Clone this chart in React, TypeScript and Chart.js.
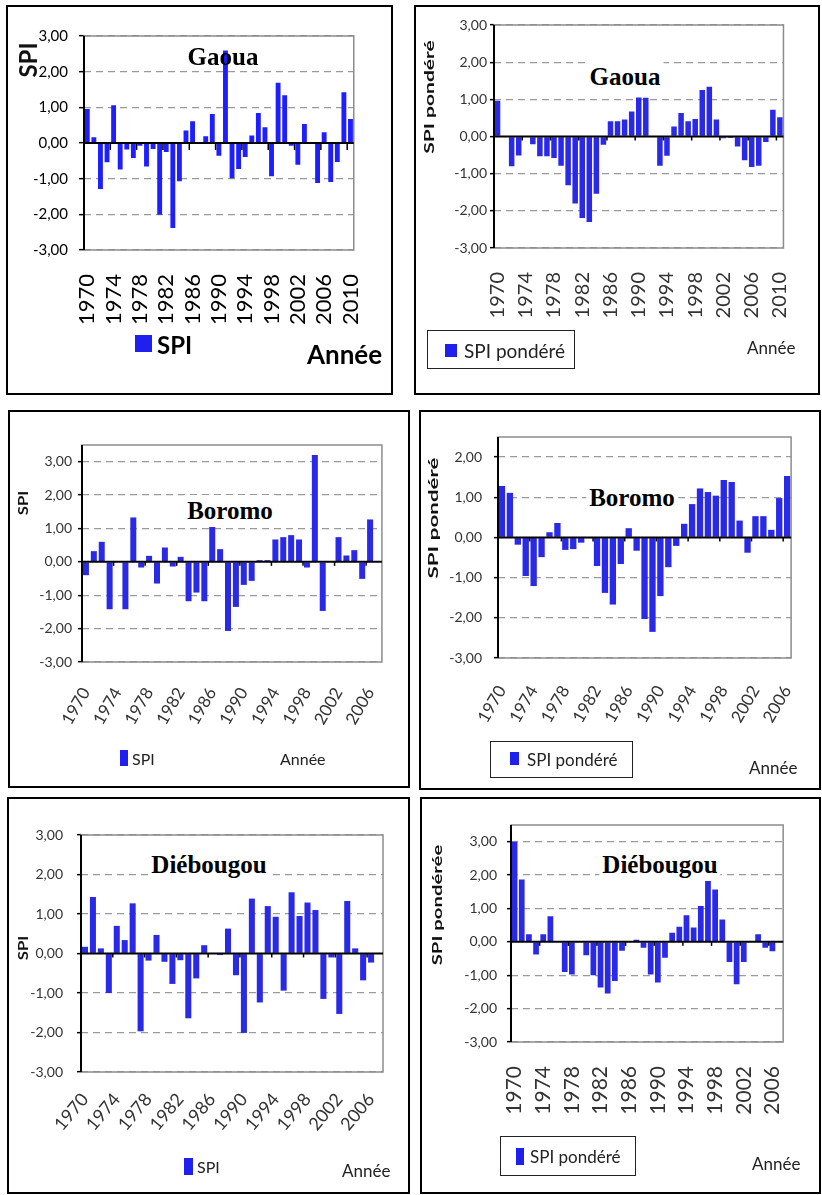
import React, { useEffect, useRef } from 'react';
import { Chart, registerables } from 'chart.js';

Chart.register(...registerables);

// ---------- DATA ----------
const years1970to2010 = ['1970','1971','1972','1973','1974','1975','1976','1977','1978','1979','1980','1981','1982','1983','1984','1985','1986','1987','1988','1989','1990','1991','1992','1993','1994','1995','1996','1997','1998','1999','2000','2001','2002','2003','2004','2005','2006','2007','2008','2009','2010'];
const years1970to2007 = ['1970','1971','1972','1973','1974','1975','1976','1977','1978','1979','1980','1981','1982','1983','1984','1985','1986','1987','1988','1989','1990','1991','1992','1993','1994','1995','1996','1997','1998','1999','2000','2001','2002','2003','2004','2005','2006','2007'];
const years1970to2006 = ['1970','1971','1972','1973','1974','1975','1976','1977','1978','1979','1980','1981','1982','1983','1984','1985','1986','1987','1988','1989','1990','1991','1992','1993','1994','1995','1996','1997','1998','1999','2000','2001','2002','2003','2004','2005','2006'];

const gaouaSpi = [0.95, 0.16, -1.29, -0.54, 1.06, -0.74, -0.18, -0.42, -0.08, -0.66, -0.17, -2.01, -0.25, -2.38, -1.07, 0.35, 0.61, 0.0, 0.19, 0.81, -0.36, 2.59, -0.99, -0.73, -0.39, 0.21, 0.84, 0.44, -0.93, 1.69, 1.34, -0.08, -0.61, 0.53, 0.02, -1.12, 0.30, -1.09, -0.53, 1.42, 0.67];
const gaouaSpiPondere = [0.96, 0.0, -0.80, -0.51, 0.0, -0.21, -0.53, -0.53, -0.58, -0.79, -1.31, -1.80, -2.19, -2.30, -1.54, -0.22, 0.41, 0.41, 0.46, 0.67, 1.05, 1.04, 0.0, -0.79, -0.52, 0.27, 0.63, 0.41, 0.47, 1.25, 1.34, 0.46, -0.05, -0.04, -0.27, -0.64, -0.82, -0.79, -0.15, 0.72, 0.52];
const boromoSpi = [-0.40, 0.32, 0.60, -1.42, 0.0, -1.42, 1.33, -0.17, 0.18, -0.65, 0.43, -0.14, 0.15, -1.18, -0.92, -1.18, 1.31, 0.38, -2.07, -1.35, -0.69, -0.57, 0.05, 0.05, 0.67, 0.74, 0.80, 0.67, -0.17, 3.20, -1.47, 0.0, 0.74, 0.19, 0.35, -0.51, 1.27, null];
const boromoSpiPondere = [1.28, 1.11, -0.18, -0.96, -1.21, -0.49, 0.13, 0.36, -0.31, -0.29, -0.13, -0.02, -0.71, -1.38, -1.67, -0.66, 0.23, -0.33, -2.03, -2.35, -1.46, -0.74, -0.21, 0.34, 0.83, 1.22, 1.13, 1.04, 1.43, 1.38, 0.42, -0.38, 0.53, 0.53, 0.19, 0.98, 1.53];
const diebougouSpi = [0.17, 1.43, 0.13, -1.00, 0.70, 0.34, 1.27, -1.97, -0.18, 0.47, -0.21, -0.77, -0.17, -1.64, -0.63, 0.21, 0.0, -0.04, 0.63, -0.55, -2.01, 1.39, -1.24, 1.20, 0.93, -0.94, 1.55, 0.95, 1.29, 1.10, -1.15, -0.10, -1.53, 1.33, 0.13, -0.68, -0.23, null];
const diebougouSpiPondere = [3.00, 1.87, 0.23, -0.38, 0.23, 0.77, 0.0, -0.90, -0.98, 0.0, -0.40, -1.00, -1.37, -1.55, -1.17, -0.27, 0.0, 0.06, -0.18, -0.98, -1.22, -0.48, 0.27, 0.45, 0.80, 0.43, 1.07, 1.97, 1.57, 0.67, -0.60, -1.27, -0.60, 0.02, 0.23, -0.18, -0.28, null];

const yTicksTo3 = [-3, -2, -1, 0, 1, 2, 3];
const yTicksTo2 = [-3, -2, -1, 0, 1, 2];

// ---------- HELPERS ----------
const fmt = (v: number) => v.toFixed(2).replace('.', ',');

const framePlugin = {
  id: 'frame',
  afterDatasetsDraw(chart: any, _args: any, opts: any) {
    const { ctx, chartArea: a, scales } = chart;
    const y0 = scales.y.getPixelForValue(0);
    const xs = scales.x;
    ctx.save();
    ctx.strokeStyle = opts.frameColor || '#888';
    ctx.lineWidth = 1.5;
    ctx.strokeRect(a.left, a.top, a.right - a.left, a.bottom - a.top);
    ctx.strokeStyle = '#000';
    ctx.lineWidth = 2;
    ctx.beginPath();
    ctx.moveTo(a.left, y0);
    ctx.lineTo(a.right, y0);
    ctx.stroke();
    ctx.beginPath();
    ctx.moveTo(a.left, a.top);
    ctx.lineTo(a.left, a.bottom);
    ctx.stroke();
    const n = xs.getLabels().length;
    const w = (a.right - a.left) / n;
    ctx.lineWidth = 1.5;
    for (let i = 4; i < n; i += 4) {
      const x = a.left + w * i;
      ctx.beginPath();
      ctx.moveTo(x, y0);
      ctx.lineTo(x, y0 + (opts.tickLen || 4));
      ctx.stroke();
    }
    ctx.restore();
  },
};

type Box = { x: number; y: number; w: number; h: number };
type Plot = { l: number; t: number; r: number; b: number };
type PanelCfg = {
  box: Box;
  plot: Plot;
  labels: string[];
  values: (number | null)[];
  seriesName: string;
  yMax: number;
  yTicks: number[];
  rot: number;
  xFont: number;
  xPad: number;
  yFont: number;
  yPad: number;
  tickLen: number;
  textColor: string;
  barColor: string;
  barPct: number;
  zeroTickLen: number;
};

function ChartPanel({ cfg }: { cfg: PanelCfg }) {
  const ref = useRef<HTMLCanvasElement>(null);
  useEffect(() => {
    const c = ref.current;
    if (!c) return;
    const { box, plot } = cfg;
    const chart = new Chart(c, {
      type: 'bar',
      data: {
        labels: cfg.labels,
        datasets: [
          {
            label: cfg.seriesName,
            data: cfg.values as any,
            backgroundColor: cfg.barColor,
            borderWidth: 0,
            barPercentage: cfg.barPct,
            categoryPercentage: 1,
          },
        ],
      },
      options: {
        responsive: false,
        animation: false,
        devicePixelRatio: 1,
        layout: { padding: { left: 0, top: plot.t - box.y, right: box.x + box.w - plot.r, bottom: 0 } },
        plugins: {
          legend: { display: false },
          tooltip: { enabled: false },
          frame: { frameColor: '#8c8c8c', tickLen: cfg.zeroTickLen },
        } as any,
        scales: {
          x: {
            grid: { display: false },
            border: { display: false },
            ticks: {
              autoSkip: false,
              maxRotation: cfg.rot,
              minRotation: cfg.rot,
              padding: cfg.xPad,
              color: cfg.textColor,
              font: { family: 'Lato', size: cfg.xFont },
              callback: (_v: any, i: number) => (i % 4 === 0 ? cfg.labels[i] : ''),
            },
            afterFit: (s: any) => {
              s.height = box.y + box.h - plot.b;
            },
          },
          y: {
            min: -3,
            max: cfg.yMax,
            afterBuildTicks: (axis: any) => {
              axis.ticks = cfg.yTicks.map((v) => ({ value: v }));
            },
            grid: {
              color: (ctx: any) => (ctx.tick && ctx.tick.value === 0 ? 'rgba(0,0,0,0)' : '#9a9a9a'),
              lineWidth: 1.3,
              tickColor: '#000',
              tickLength: cfg.tickLen,
              tickWidth: 1.5,
            },
            border: { display: false, dash: [7, 5] },
            ticks: {
              padding: cfg.yPad,
              color: cfg.textColor,
              font: { family: 'Lato', size: cfg.yFont },
              callback: (v: any) => fmt(Number(v)),
            },
            afterFit: (s: any) => {
              s.width = plot.l - box.x;
            },
          },
        },
      } as any,
      plugins: [framePlugin as any],
    });
    return () => chart.destroy();
  }, [cfg]);
  const { box } = cfg;
  return (
    <>
      <canvas
        ref={ref}
        width={box.w}
        height={box.h}
        style={{ position: 'absolute', left: box.x, top: box.y, width: box.w, height: box.h }}
      />
      <div
        style={{
          position: 'absolute',
          left: box.x,
          top: box.y,
          width: box.w,
          height: box.h,
          border: '2px solid #000',
          boxSizing: 'border-box',
          pointerEvents: 'none',
        }}
      />
    </>
  );
}

const panels: PanelCfg[] = [
  {
    box: { x: 6, y: 5, w: 387, h: 390 },
    plot: { l: 84, t: 36, r: 383, b: 250 },
    labels: years1970to2010, values: gaouaSpi, seriesName: 'SPI',
    yMax: 3, yTicks: yTicksTo3, rot: 90, xFont: 22, xPad: 16, yFont: 15, yPad: 11, tickLen: 5,
    textColor: '#000', barColor: '#1e1eff', barPct: 0.74, zeroTickLen: 7,
  },
  {
    box: { x: 414, y: 5, w: 406, h: 390 },
    plot: { l: 494, t: 25, r: 814, b: 248 },
    labels: years1970to2010, values: gaouaSpiPondere, seriesName: 'SPI pondéré',
    yMax: 3, yTicks: yTicksTo3, rot: 90, xFont: 20, xPad: 16, yFont: 14, yPad: 3, tickLen: 4,
    textColor: '#333', barColor: '#2a2ae6', barPct: 0.78, zeroTickLen: 4,
  },
  {
    box: { x: 8, y: 410, w: 402, h: 378 },
    plot: { l: 82, t: 445, r: 383, b: 662 },
    labels: years1970to2007, values: boromoSpi, seriesName: 'SPI',
    yMax: 3.5, yTicks: yTicksTo3, rot: 60, xFont: 17, xPad: 14, yFont: 14, yPad: 6, tickLen: 4,
    textColor: '#333', barColor: '#2a2ae6', barPct: 0.76, zeroTickLen: 4,
  },
  {
    box: { x: 419, y: 410, w: 402, h: 380 },
    plot: { l: 498, t: 437, r: 807, b: 658 },
    labels: years1970to2006, values: boromoSpiPondere, seriesName: 'SPI pondéré',
    yMax: 2.5, yTicks: yTicksTo2, rot: 60, xFont: 17, xPad: 16, yFont: 14, yPad: 12, tickLen: 4,
    textColor: '#333', barColor: '#2a2ae6', barPct: 0.8, zeroTickLen: 4,
  },
  {
    box: { x: 7, y: 797, w: 403, h: 397 },
    plot: { l: 81, t: 835, r: 383, b: 1072 },
    labels: years1970to2007, values: diebougouSpi, seriesName: 'SPI',
    yMax: 3, yTicks: yTicksTo3, rot: 50, xFont: 18, xPad: 9, yFont: 14, yPad: 14, tickLen: 4,
    textColor: '#333', barColor: '#2a2ae6', barPct: 0.76, zeroTickLen: 4,
  },
  {
    box: { x: 420, y: 797, w: 401, h: 397 },
    plot: { l: 511, t: 825, r: 805, b: 1042 },
    labels: years1970to2007, values: diebougouSpiPondere, seriesName: 'SPI pondéré',
    yMax: 3.5, yTicks: yTicksTo3, rot: 90, xFont: 21, xPad: 16, yFont: 14, yPad: 10, tickLen: 4,
    textColor: '#333', barColor: '#2a2ae6', barPct: 0.8, zeroTickLen: 4,
  },
];

// ---------- TEXT OVERLAYS ----------
const abs = (x: number, y: number, extra: React.CSSProperties = {}): React.CSSProperties => ({
  position: 'absolute',
  left: x,
  top: y,
  whiteSpace: 'nowrap',
  lineHeight: 1,
  ...extra,
});

function YTitle({ x, y, text, size, stretch }: { x: number; y: number; text: string; size: number; stretch: number }) {
  return (
    <div
      style={abs(x, y, {
        transform: `translate(-50%,-50%) rotate(-90deg) scaleX(${stretch})`,
        font: `bold ${size}px Lato`,
        color: '#111',
      })}
    >
      {text}
    </div>
  );
}

function Station({ x, y, text, bg }: { x: number; y: number; text: string; bg: boolean }) {
  return (
    <div
      style={abs(x, y, {
        transform: 'translate(-50%,-50%)',
        font: 'bold 25px "Liberation Serif"',
        color: '#000',
        background: bg ? '#fff' : 'transparent',
        padding: '2px 3px',
      })}
    >
      {text}
    </div>
  );
}

function PlainText({ x, y, text, size, bold, color }: { x: number; y: number; text: string; size: number; bold?: boolean; color?: string }) {
  return (
    <div style={abs(x, y, { transform: 'translateY(-50%)', font: `${bold ? 'bold ' : ''}${size}px Lato`, color: color || '#222' })}>
      {text}
    </div>
  );
}

function Swatch({ x, y, w, h }: { x: number; y: number; w: number; h: number }) {
  return <div style={abs(x, y, { width: w, height: h, background: '#2020ee' })} />;
}

function LegendBox({ x, y, w, h }: { x: number; y: number; w: number; h: number }) {
  return (
    <div
      style={abs(x, y, {
        width: w,
        height: h,
        border: '1.5px solid #222',
        boxSizing: 'border-box',
        background: '#fff',
      })}
    />
  );
}

export default function App() {
  return (
    <div style={{ position: 'absolute', left: 0, top: 0, width: 822, height: 1195, background: '#fff', overflow: 'hidden' }}>
      {panels.map((p, i) => (
        <ChartPanel key={i} cfg={p} />
      ))}

      {/* Panel 1: Gaoua SPI */}
      <YTitle x={27} y={60} text="SPI" size={24} stretch={1} />
      <Station x={223} y={57} text="Gaoua" bg={false} />
      <Swatch x={135} y={335} w={17} h={17} />
      <PlainText x={157} y={344} text="SPI" size={24} bold color="#000" />
      <PlainText x={307} y={354} text="Année" size={26} bold color="#000" />

      {/* Panel 2: Gaoua SPI pondéré */}
      <YTitle x={428} y={97} text="SPI pondéré" size={14} stretch={1.5} />
      <Station x={625} y={77} text="Gaoua" bg={true} />
      <LegendBox x={427} y={330} w={148} h={39} />
      <Swatch x={445} y={344} w={12} h={13} />
      <PlainText x={464} y={350} text="SPI pondéré" size={19} />
      <PlainText x={747} y={347} text="Année" size={17} />

      {/* Panel 3: Boromo SPI */}
      <YTitle x={22} y={503} text="SPI" size={14} stretch={1.2} />
      <Station x={230} y={511} text="Boromo" bg={true} />
      <Swatch x={120} y={750} w={8} h={16} />
      <PlainText x={132} y={758} text="SPI" size={16} />
      <PlainText x={280} y={758} text="Année" size={16} />

      {/* Panel 4: Boromo SPI pondéré */}
      <YTitle x={432} y={518} text="SPI pondéré" size={14} stretch={1.6} />
      <Station x={632} y={498} text="Boromo" bg={true} />
      <LegendBox x={490} y={741} w={143} h={37} />
      <Swatch x={510} y={752} w={9} h={13} />
      <PlainText x={527} y={759} text="SPI pondéré" size={17} />
      <PlainText x={749} y={767} text="Année" size={17} />

      {/* Panel 5: Diébougou SPI */}
      <YTitle x={22} y={948} text="SPI" size={14} stretch={1.2} />
      <Station x={209} y={865} text="Diébougou" bg={true} />
      <Swatch x={184} y={1158} w={9} h={17} />
      <PlainText x={197} y={1166} text="SPI" size={16} />
      <PlainText x={342} y={1170} text="Année" size={17} />

      {/* Panel 6: Diébougou SPI pondéré */}
      <YTitle x={436} y={905} text="SPI pondérée" size={14} stretch={1.45} />
      <Station x={660} y={865} text="Diébougou" bg={true} />
      <LegendBox x={500} y={1136} w={136} h={40} />
      <Swatch x={516} y={1148} w={8} h={17} />
      <PlainText x={530} y={1156} text="SPI pondéré" size={17} />
      <PlainText x={752} y={1163} text="Année" size={17} />
    </div>
  );
}
